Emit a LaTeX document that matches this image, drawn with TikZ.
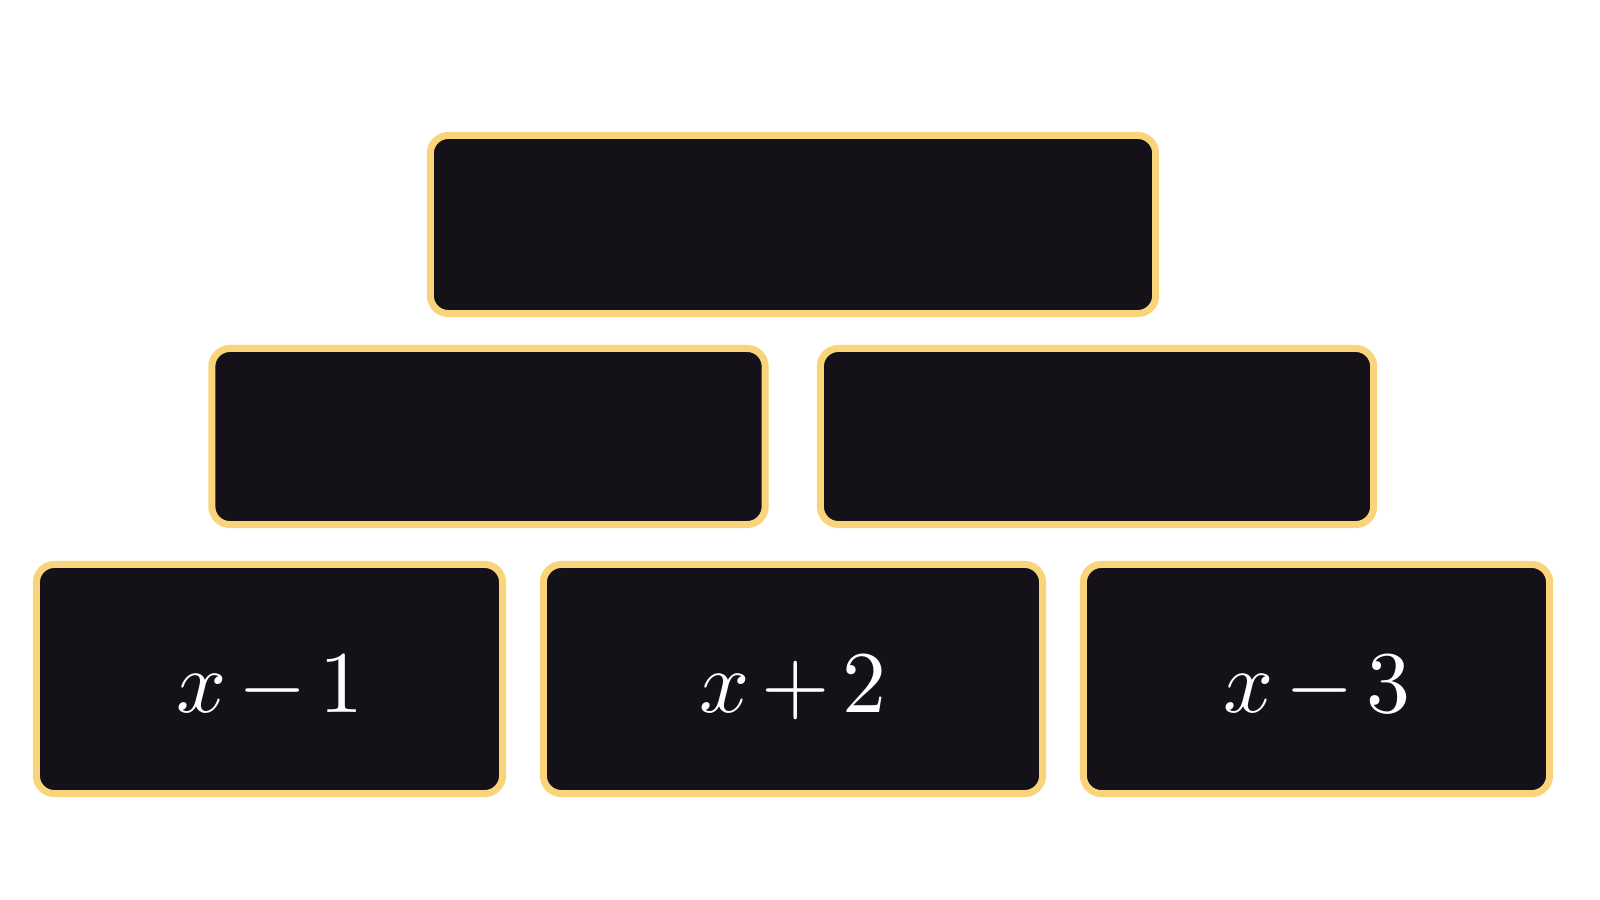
\documentclass[tikz,border=0pt]{standalone}
\usepackage{tikz}
\definecolor{brickgold}{RGB}{249,212,122}
\definecolor{brickdark}{RGB}{21,17,24}
\newcommand{\bricktext}[1]{\scalebox{2.5}{$\medmuskip=2.5mu #1$}}
\tikzset{brick/.style={draw=brickgold, fill=brickdark, line width=0.07cm, rounded corners=0.18cm,
    text=white, inner sep=0pt, text height=0.667cm, text depth=0cm}}

\begin{document}
\begin{tikzpicture}[x=0.01cm, y=-0.01cm]
			%%%%% START %%%%%
			\useasboundingbox (0, 0) rectangle (1600, 900);
			
			\node[brick, minimum width=7.25cm, minimum height=1.78cm] (top) at (793, 224.5) {};
			
			\node[brick, minimum width=5.53cm, minimum height=1.76cm] (midleft) at (488.5, 436.5) {};
			\node[brick, minimum width=5.53cm, minimum height=1.76cm] (midright) at (1097, 436.5) {};
			
			\node[brick, minimum width=4.66cm, minimum height=2.29cm] (botleft) at (269.5, 679) {\bricktext{x-1}};
			\node[brick, minimum width=4.99cm, minimum height=2.29cm] (botmid) at (793, 679) {\bricktext{x+2}};
			\node[brick, minimum width=4.66cm, minimum height=2.29cm] (botright) at (1316.5, 679) {\bricktext{x-3}};
			
			%%%%% END %%%%%
		\end{tikzpicture}
\end{document}
